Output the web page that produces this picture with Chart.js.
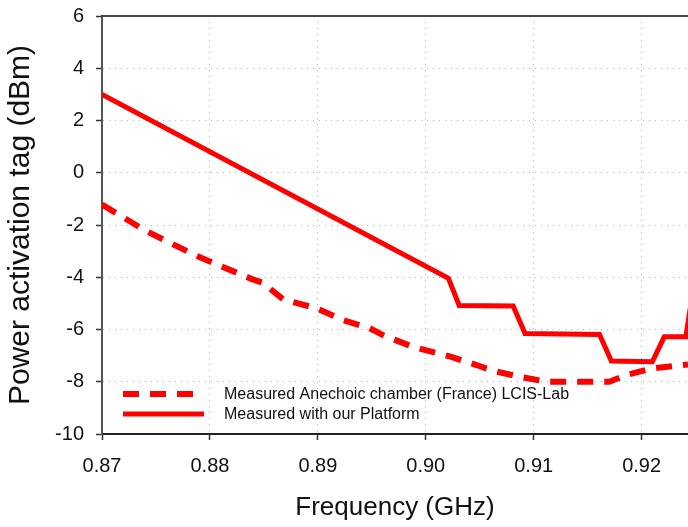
<!DOCTYPE html>
<html>
<head>
<meta charset="utf-8">
<script src="https://cdn.jsdelivr.net/npm/chart.js@4/dist/chart.umd.min.js"></script>
<style>
  html, body { margin: 0; padding: 0; background: #ffffff; }
  #wrap { width: 688px; height: 527px; }
</style>
</head>
<body>
<div id="wrap"><canvas id="chart" width="688" height="527"></canvas></div>
<script>
// Frequency sweep (GHz) and activation power (dBm)
const chamberFreq  = [0.8700, 0.8739, 0.8788, 0.8839, 0.8849, 0.8868, 0.8899, 0.8923, 0.8948, 0.8962, 0.8988, 0.9023, 0.9047, 0.9062, 0.9087, 0.9112, 0.9161, 0.9170, 0.9186, 0.9210, 0.9243];
const chamberPower = [-1.22, -2.19, -3.19, -4.07, -4.21, -4.85, -5.19, -5.64, -5.95, -6.25, -6.66, -7.04, -7.36, -7.58, -7.81, -8.00, -8.00, -8.00, -7.74, -7.49, -7.34];

const platformFreq  = [0.8700, 0.9021, 0.9031, 0.9081, 0.9092, 0.9161, 0.9172, 0.9210, 0.9221, 0.9241, 0.9245];
const platformPower = [3.00, -4.04, -5.08, -5.10, -6.15, -6.19, -7.21, -7.23, -6.28, -6.28, -5.20];

const xTicks = [0.87, 0.88, 0.89, 0.90, 0.91, 0.92];
const yTicks = [-10, -8, -6, -4, -2, 0, 2, 4, 6];

const seriesLabels = [
  'Measured Anechoic chamber (France) LCIS-Lab',
  'Measured with our Platform'
];

const FONT = "'Liberation Sans', Arial, Helvetica, sans-serif";
const toPoints = (xs, ys) => xs.map((x, i) => ({ x: x, y: ys[i] }));

// Frame line along the top of the plot area
const topFrame = {
  id: 'topFrame',
  afterDraw(chart) {
    const { ctx, chartArea: a } = chart;
    ctx.save();
    ctx.strokeStyle = '#444';
    ctx.lineWidth = 2;
    ctx.beginPath();
    ctx.moveTo(a.left - 1, a.top);
    ctx.lineTo(a.right, a.top);
    ctx.stroke();
    ctx.restore();
  }
};

// Legend placed inside the plot area, lower left
const innerLegend = {
  id: 'innerLegend',
  afterDatasetsDraw(chart) {
    const { ctx, chartArea: a } = chart;
    ctx.save();
    chart.data.datasets.forEach((ds, i) => {
      const y = 394 + i * 20;
      const x0 = a.left + 21;
      ctx.strokeStyle = ds.borderColor;
      ctx.lineWidth = ds.borderWidth;
      ctx.setLineDash(ds.borderDash || []);
      ctx.lineCap = 'butt';
      ctx.beginPath();
      ctx.moveTo(x0, y);
      ctx.lineTo(x0 + 81, y);
      ctx.stroke();
      ctx.setLineDash([]);
      ctx.fillStyle = '#111';
      ctx.font = '16px ' + FONT;
      ctx.textBaseline = 'middle';
      ctx.textAlign = 'left';
      ctx.fillText(ds.label, a.left + 122, y + 1);
    });
    ctx.restore();
  }
};

new Chart(document.getElementById('chart'), {
  type: 'line',
  data: {
    datasets: [
      {
        label: seriesLabels[0],
        data: toPoints(chamberFreq, chamberPower),
        borderColor: '#ff0000',
        borderWidth: 6,
        borderDash: [16, 11],
        pointRadius: 0,
        tension: 0,
        fill: false
      },
      {
        label: seriesLabels[1],
        data: toPoints(platformFreq, platformPower),
        borderColor: '#ff0000',
        borderWidth: 5,
        pointRadius: 0,
        tension: 0,
        fill: false
      }
    ]
  },
  options: {
    responsive: false,
    animation: false,
    devicePixelRatio: 1,
    layout: { padding: { top: 16, right: 0, bottom: 0, left: 0 } },
    plugins: {
      legend: { display: false },
      tooltip: { enabled: false }
    },
    scales: {
      x: {
        type: 'linear',
        min: 0.87,
        max: 0.9243,
        afterBuildTicks: (s) => { s.ticks = xTicks.map(v => ({ value: v })); },
        afterFit: (s) => { s.height = 93; s.paddingLeft = 0; s.paddingRight = 0; },
        ticks: {
          color: '#111',
          font: { family: FONT, size: 20 },
          padding: 14,
          maxRotation: 0,
          callback: (v) => v.toFixed(2)
        },
        grid: {
          color: '#b4b4b4',
          lineWidth: 1,
          tickColor: '#333',
          tickLength: 6,
          tickWidth: 1.5
        },
        border: { display: true, color: '#222', width: 2, dash: [1, 5] },
        title: {
          display: true,
          text: 'Frequency (GHz)',
          color: '#111',
          font: { family: FONT, size: 26 },
          padding: { top: 0, bottom: 4 }
        }
      },
      y: {
        type: 'linear',
        min: -10,
        max: 6,
        afterBuildTicks: (s) => { s.ticks = yTicks.map(v => ({ value: v })); },
        afterFit: (s) => { s.width = 102; s.paddingTop = 0; s.paddingBottom = 0; },
        ticks: {
          color: '#111',
          font: { family: FONT, size: 20 },
          padding: 12
        },
        grid: {
          color: '#b4b4b4',
          lineWidth: 1,
          tickColor: '#333',
          tickLength: 6,
          tickWidth: 1.5
        },
        border: { display: true, color: '#555', width: 2, dash: [1, 5] },
        title: {
          display: true,
          text: 'Power activation tag (dBm)',
          color: '#111',
          font: { family: FONT, size: 30 },
          padding: { top: 3, bottom: 0 }
        }
      }
    }
  },
  plugins: [topFrame, innerLegend]
});
</script>
</body>
</html>
